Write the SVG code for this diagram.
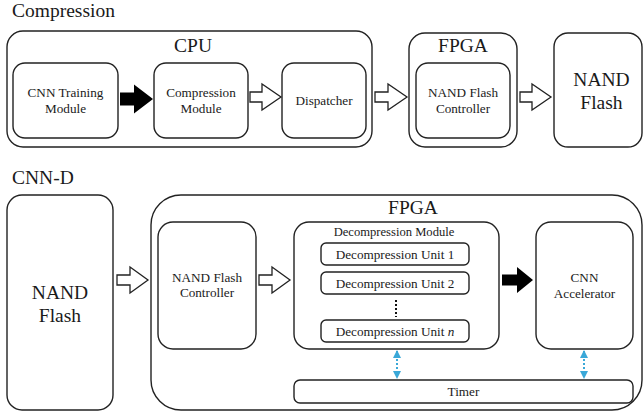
<svg xmlns="http://www.w3.org/2000/svg" width="644" height="412" viewBox="0 0 644 412">
  <style>
    .box { fill: #ffffff; stroke: #222222; stroke-width: 1.4; }
    .t { font-family: "Liberation Serif", Tinos, "Times New Roman", "DejaVu Serif", serif; fill: #1a1a1a; text-anchor: middle; }
    .title { font-size: 19.5px; text-anchor: start; }
    .big { font-size: 19.5px; }
    .sm { font-size: 13.2px; }
    .hollow { fill: #ffffff; stroke: #222222; stroke-width: 1.3; stroke-linejoin: miter; }
    .solid { fill: #000000; stroke: none; }
    .sync { stroke: #3aa8d8; stroke-width: 2; stroke-dasharray: 2 2; fill: none; }
  </style>
  <defs>
    <marker id="tip" viewBox="0 0 8 8" refX="7" refY="4" markerWidth="8" markerHeight="8" markerUnits="userSpaceOnUse" orient="auto-start-reverse">
      <path d="M0,0 L8,4 L0,8 Z" fill="#3aa8d8"/>
    </marker>
  </defs>

  <rect width="644" height="412" fill="#ffffff"/>

  <!-- Compression flow -->
  <text class="t title" x="12" y="17">Compression</text>

  <g id="cpu">
    <rect class="box" x="7" y="31" width="365" height="116" rx="16"/>
    <text class="t big" x="193" y="52">CPU</text>
  </g>
  <g id="cnn-training">
    <rect class="box" x="13" y="63" width="105" height="75" rx="12"/>
    <text class="t sm" x="65.5" y="97">CNN Training</text>
    <text class="t sm" x="65.5" y="113">Module</text>
  </g>
  <g id="compression-module">
    <rect class="box" x="154" y="63" width="94" height="75" rx="12"/>
    <text class="t sm" x="201" y="97">Compression</text>
    <text class="t sm" x="201" y="113">Module</text>
  </g>
  <g id="dispatcher">
    <rect class="box" x="282" y="63" width="84" height="75" rx="12"/>
    <text class="t sm" x="324" y="105">Dispatcher</text>
  </g>
  <g id="fpga-top">
    <rect class="box" x="409" y="33" width="108" height="114" rx="16"/>
    <text class="t big" x="463" y="52">FPGA</text>
  </g>
  <g id="nand-ctrl-top">
    <rect class="box" x="416" y="63" width="94" height="75" rx="12"/>
    <text class="t sm" x="463" y="97">NAND Flash</text>
    <text class="t sm" x="463" y="113">Controller</text>
  </g>
  <g id="nand-top">
    <rect class="box" x="554" y="33" width="88" height="114" rx="14"/>
    <text class="t big" x="601.5" y="86">NAND</text>
    <text class="t big" x="601.5" y="109">Flash</text>
  </g>

  <!-- CNN-D flow -->
  <text class="t title" x="12" y="184">CNN-D</text>

  <g id="nand-bottom">
    <rect class="box" x="7" y="195" width="106" height="215" rx="15"/>
    <text class="t big" x="60" y="299">NAND</text>
    <text class="t big" x="60" y="322">Flash</text>
  </g>
  <g id="fpga-bottom">
    <rect class="box" x="151" y="195" width="491" height="215" rx="30"/>
    <text class="t big" x="413" y="214">FPGA</text>
  </g>
  <g id="nand-ctrl-bottom">
    <rect class="box" x="158" y="222" width="98" height="127" rx="15"/>
    <text class="t sm" x="207" y="282">NAND Flash</text>
    <text class="t sm" x="207" y="297">Controller</text>
  </g>
  <g id="decompression-module">
    <rect class="box" x="294" y="222" width="205" height="127" rx="15"/>
    <text class="t" x="394" y="235.5" font-size="12.6">Decompression Module</text>
  </g>
  <g id="unit-1">
    <rect class="box" x="321" y="243" width="148" height="22" rx="5"/>
    <text class="t sm" x="395" y="258.5">Decompression Unit 1</text>
  </g>
  <g id="unit-2">
    <rect class="box" x="321" y="272" width="148" height="22" rx="5"/>
    <text class="t sm" x="395" y="287.5">Decompression Unit 2</text>
  </g>
  <g id="unit-n">
    <rect class="box" x="321" y="320" width="148" height="22" rx="5"/>
    <text class="t sm" x="395" y="335.5">Decompression Unit <tspan font-style="italic">n</tspan></text>
  </g>
  <line x1="396" y1="300" x2="396" y2="317" stroke="#111111" stroke-width="2" stroke-dasharray="2 2"/>
  <g id="cnn-accelerator">
    <rect class="box" x="536" y="222" width="97" height="127" rx="15"/>
    <text class="t sm" x="584.5" y="282">CNN</text>
    <text class="t sm" x="584.5" y="297.5">Accelerator</text>
  </g>
  <g id="timer">
    <rect class="box" x="294" y="380" width="339" height="23" rx="6"/>
    <text class="t sm" x="463.5" y="396">Timer</text>
  </g>

  <!-- connectors -->
  <g id="connectors">
    <polygon class="solid" points="120,92.5 134,92.5 134,84.5 153,99 134,113.5 134,105.5 120,105.5"/>
    <polygon class="hollow" points="250,92 262,92 262,84 281,97 262,110 262,102 250,102"/>
    <polygon class="hollow" points="375,92 388,92 388,84 407,97 388,110 388,102 375,102"/>
    <polygon class="hollow" points="520,92 532,92 532,84 551,97 532,110 532,102 520,102"/>

    <polygon class="hollow" points="117,275 130,275 130,267 148,280 130,293 130,285 117,285"/>
    <polygon class="hollow" points="259,275 272,275 272,267 290,280 272,293 272,285 259,285"/>
    <polygon class="solid" points="502,274.5 517,274.5 517,267 533,280 517,293 517,285.5 502,285.5"/>

    <line class="sync" x1="397" y1="351" x2="397" y2="378" marker-start="url(#tip)" marker-end="url(#tip)"/>
    <line class="sync" x1="584" y1="351" x2="584" y2="378" marker-start="url(#tip)" marker-end="url(#tip)"/>
  </g>
</svg>
